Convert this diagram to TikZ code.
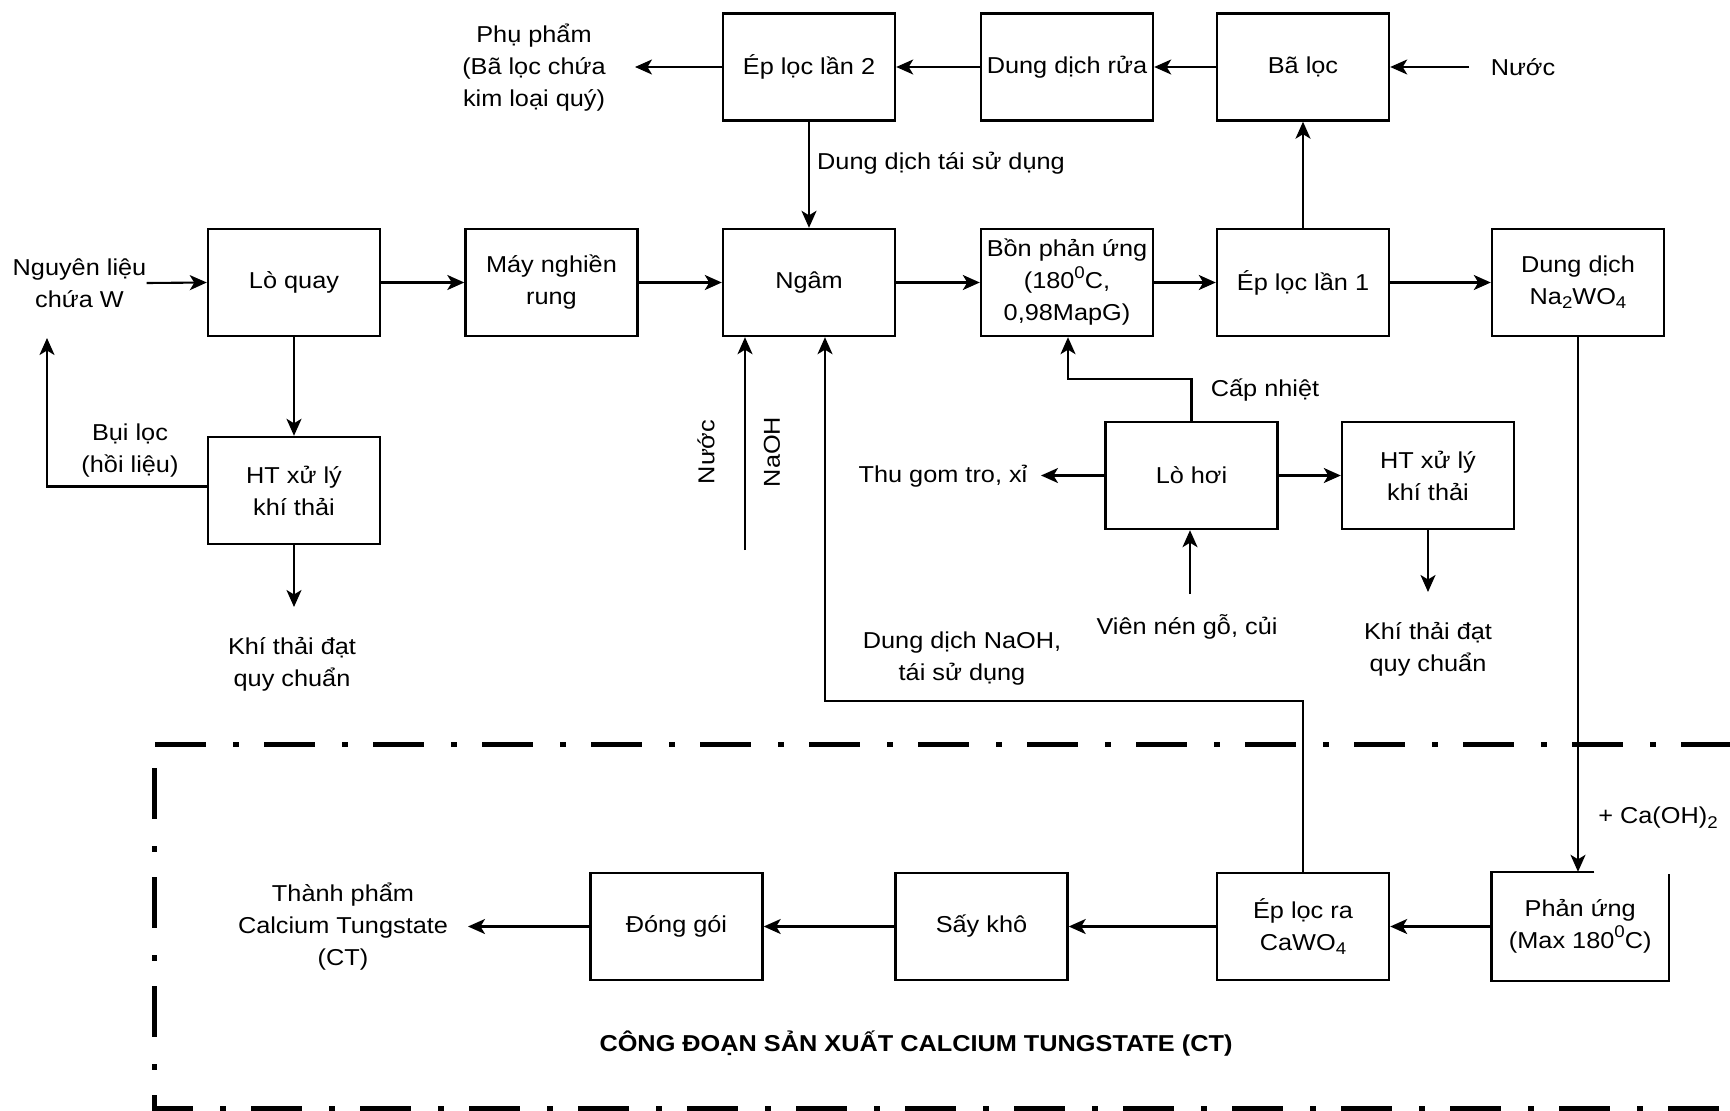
\documentclass[tikz,border=0pt]{standalone}
\usepackage{fontspec}
\setmainfont{Liberation Sans}[FakeStretch=1.1]
\usetikzlibrary{arrows.meta}

% lowered and raised indices, a little larger than \textsubscript
\newcommand{\lowidx}[1]{\raisebox{-0.35ex}{\fontsize{17}{17}\selectfont #1}}
\newcommand{\highidx}[1]{\raisebox{0.9ex}{\fontsize{17}{17}\selectfont #1}}

\tikzset{
  unit/.style={draw, line width=2.4pt, minimum width=172pt, minimum height=107pt, inner sep=0pt, align=center},
  lbl/.style={align=center, inner sep=0pt},
  flow/.style={line width=2.1pt, -{Stealth[length=17pt,width=15pt,inset=4.5pt]}},
  zone/.style={line width=5pt, dash pattern=on 51pt off 27pt on 6pt off 25pt}
}

\begin{document}
\begin{tikzpicture}[x=1pt, y=-1pt, font=\fontsize{23}{32}\selectfont]

  \useasboundingbox (0,0) rectangle (1730,1111);

  % --- Upper row: washing of the filter cake ---
  \node[unit] (ep2)   at (809,67)  {Ép lọc lần 2};
  \node[unit] (ddrua) at (1067,67) {Dung dịch rửa};
  \node[unit] (baloc) at (1303,67) {Bã lọc};

  % --- Main row: leaching line ---
  \node[unit] (loquay)    at (294,282.5)   {Lò quay};
  \node[unit] (maynghien) at (551.5,282.5) {Máy nghiền\\rung};
  \node[unit] (ngam)      at (809,282.5)   {Ngâm};
  \node[unit] (bon)       at (1067,282.5)  {Bồn phản ứng\\(180\highidx{0}C,\\0,98MapG)};
  \node[unit] (ep1)       at (1303,282.5)  {Ép lọc lần 1};
  \node[unit] (na2wo4)    at (1578,282.5)  {Dung dịch\\Na\lowidx{2}WO\lowidx{4}};

  % --- Gas treatment and boiler ---
  \node[unit] (htl)   at (294,490.5)    {HT xử lý\\khí thải};
  \node[unit] (lohoi) at (1191.5,475.5) {Lò hơi};
  \node[unit] (htr)   at (1428,475.5)   {HT xử lý\\khí thải};

  % --- Lower row: calcium tungstate stage ---
  \node[unit] (donggoi) at (676.5,926.5) {Đóng gói};
  \node[unit] (saykho)  at (981.5,926.5) {Sấy khô};
  \node[unit] (eprca)   at (1303,926.5)  {Ép lọc ra\\CaWO\lowidx{4}};
  \node[unit, draw=none, minimum width=175.5pt] (phanung) at (1580.25,926.5) {Phản ứng\\(Max 180\highidx{0}C)};
  % open corner at the top right of the reactor box
  \draw[line width=2.4pt] ([xshift=103pt]phanung.north west) -- (phanung.north west)
    -- (phanung.south west) -- (phanung.south east) -- ([yshift=-2pt]phanung.north east);

  % --- Free texts ---
  \node[lbl] (nguyen)    at (79.5,283) {Nguyên liệu\\chứa W};
  \node[lbl] (phupham)   at (534,68)   {Phụ phẩm\\(Bã lọc chứa\\kim loại quý)};
  \node[lbl] (nuoc)      at (1523,67)  {Nước};
  \node[lbl, anchor=west] (taisudung) at (817,163) {Dung dịch tái sử dụng};
  \node[lbl] (builoc)    at (130,451)  {Bụi lọc\\(hồi liệu)};
  \node[lbl] (khithai1)  at (292,664)  {Khí thải đạt\\quy chuẩn};
  \node[lbl, rotate=90] (nuocv) at (706,452) {Nước};
  \node[lbl, rotate=90] (naoh)  at (772,452) {NaOH};
  \node[lbl] (capnhiet)  at (1265,390) {Cấp nhiệt};
  \node[lbl] (thugom)    at (943,476)  {Thu gom tro, xỉ};
  \node[lbl] (viennen)   at (1187,627) {Viên nén gỗ, củi};
  \node[lbl] (khithai2)  at (1428,649) {Khí thải đạt\\quy chuẩn};
  \node[lbl] (ddnaoh)    at (962,659)  {Dung dịch NaOH,\\tái sử dụng};
  \node[lbl] (caoh)      at (1658,818) {+ Ca(OH)\lowidx{2}};
  \node[lbl] (thanhpham) at (343,927)  {Thành phẩm\\Calcium Tungstate\\(CT)};
  \node[lbl, font=\fontsize{23}{32}\selectfont\bfseries] (stage) at (916,1044)
    {CÔNG ĐOẠN SẢN XUẤT CALCIUM TUNGSTATE (CT)};

  % --- Free ends of connectors ---
  \coordinate (phupham-in) at (635,67);
  \coordinate (nuoc-out)   at (1469,67);
  \coordinate (bui-up)     at (47,338);
  \coordinate (khi1-in)    at (294,607);
  \coordinate (feed)       at (745,550);
  \coordinate (recyc)      at (825,701);
  \coordinate (heat)       at (1068,379);
  \coordinate (thugom-in)  at (1041,475.5);
  \coordinate (fuel)       at (1190,594);
  \coordinate (khi2-in)    at (1428,592);
  \coordinate (ct-in)      at (468,926.5);

  % --- Connectors ---
  \draw[flow] (nguyen.east) -- (loquay.west);
  \draw[flow] (loquay) -- (maynghien);
  \draw[flow] (maynghien) -- (ngam);
  \draw[flow] (ngam) -- (bon);
  \draw[flow] (bon) -- (ep1);
  \draw[flow] (ep1) -- (na2wo4);

  \draw[flow] (nuoc-out) -- (baloc.east);
  \draw[flow] (baloc) -- (ddrua);
  \draw[flow] (ddrua) -- (ep2);
  \draw[flow] (ep2.west) -- (phupham-in);
  \draw[flow] (ep2) -- (ngam);
  \draw[flow] (ep1) -- (baloc);

  \draw[flow] (loquay) -- (htl);
  \draw[flow] (htl.south) -- (khi1-in);
  \draw[flow] ([yshift=4pt]htl.west) -| (bui-up);

  \draw[flow] (feed) -- (feed |- ngam.south);
  \draw[flow] (eprca.north) |- (recyc) -- (recyc |- ngam.south);

  \draw[flow] (lohoi.north) |- (heat) -- (heat |- bon.south);
  \draw[flow] (lohoi.west) -- (thugom-in);
  \draw[flow] (lohoi) -- (htr);
  \draw[flow] (fuel) -- (fuel |- lohoi.south);
  \draw[flow] (htr.south) -- (khi2-in);

  \draw[flow] (na2wo4.south) -- (na2wo4.south |- phanung.north);
  \draw[flow] (phanung.west) -- (eprca.east);
  \draw[flow] (eprca) -- (saykho);
  \draw[flow] (saykho) -- (donggoi);
  \draw[flow] (donggoi.west) -- (ct-in);

  % --- Stage frame (dash-dot, runs off the right and bottom edges) ---
  \draw[zone] (155,744) -- (1730,744);
  \draw[zone, dash phase=85pt] (154.5,744) -- (154.5,1108);
  \draw[zone, dash phase=10pt] (152,1108) -- (1730,1108);

\end{tikzpicture}
\end{document}
